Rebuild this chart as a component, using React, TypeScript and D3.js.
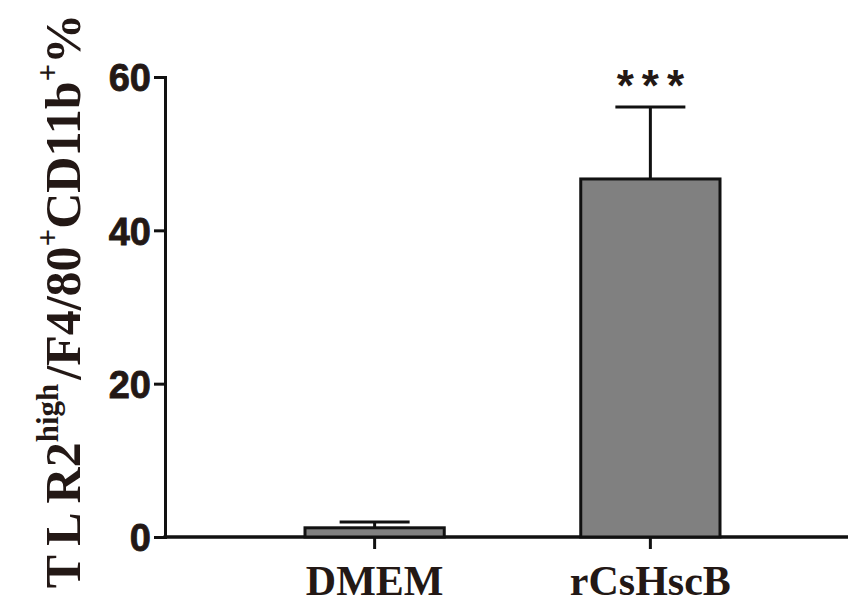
import React, { useRef, useEffect } from "react";
import * as d3 from "d3";

const groups = ["DMEM", "rCsHscB"];
const means = [1.2, 46.7];
const errors = [0.75, 9.4];
const signif = ["", "***"];
const yTicks = [0, 20, 40, 60];

const W = 848;
const H = 605;

const App: React.FC = () => {
  const svgRef = useRef<SVGSVGElement | null>(null);

  useEffect(() => {
    if (!svgRef.current) return;
    const svg = d3.select(svgRef.current);
    svg.selectAll("*").remove();

    const x0 = 165;
    const yScale = d3.scaleLinear().domain([0, 60]).range([537, 77]);
    const xScale = d3
      .scaleBand()
      .domain(groups)
      .range([305, 720])
      .paddingInner(0.495);

    const data = groups.map((g, i) => ({
      g,
      mean: means[i],
      err: errors[i],
      sig: signif[i],
    }));

    // y axis
    const yAxis = d3
      .axisLeft(yScale)
      .tickValues(yTicks)
      .tickSize(11)
      .tickPadding(3)
      .tickFormat((d) => `${d}`);

    const ya = svg
      .append("g")
      .attr("transform", `translate(${x0},0)`)
      .call(yAxis);
    ya.select(".domain").attr("stroke", "#111").attr("stroke-width", 3);
    ya.selectAll(".tick line").attr("stroke", "#111").attr("stroke-width", 3);
    ya.selectAll(".tick text")
      .attr("fill", "#231815")
      .attr("font-family", "'Liberation Sans', Arial, sans-serif")
      .attr("font-weight", "bold")
      .attr("font-size", 38)
      .attr("stroke", "#231815")
      .attr("stroke-width", 0.8)
      .attr("dy", "0.36em");

    // x axis
    const xa = svg
      .append("g")
      .attr("transform", `translate(0,${yScale(0)})`);
    xa.append("line")
      .attr("x1", x0 - 1.5)
      .attr("x2", W)
      .attr("stroke", "#111")
      .attr("stroke-width", 3.5);
    xa.selectAll("line.tk")
      .data(groups)
      .join("line")
      .attr("class", "tk")
      .attr("x1", (d) => (xScale(d) || 0) + xScale.bandwidth() / 2)
      .attr("x2", (d) => (xScale(d) || 0) + xScale.bandwidth() / 2)
      .attr("y1", 0)
      .attr("y2", 12)
      .attr("stroke", "#111")
      .attr("stroke-width", 3);
    xa.selectAll("text")
      .data(groups)
      .join("text")
      .attr("x", (d) => (xScale(d) || 0) + xScale.bandwidth() / 2)
      .attr("y", 58)
      .attr("text-anchor", "middle")
      .attr("fill", "#231815")
      .attr("font-family", "'Liberation Serif', 'Times New Roman', serif")
      .attr("font-weight", "bold")
      .attr("font-size", 42)
      .text((d) => d);

    // error bars (upper only)
    const eb = svg.append("g").selectAll("g").data(data).join("g");
    eb.append("line")
      .attr("x1", (d) => (xScale(d.g) || 0) + xScale.bandwidth() / 2)
      .attr("x2", (d) => (xScale(d.g) || 0) + xScale.bandwidth() / 2)
      .attr("y1", (d) => yScale(d.mean))
      .attr("y2", (d) => yScale(d.mean + d.err))
      .attr("stroke", "#111")
      .attr("stroke-width", 3);
    eb.append("line")
      .attr("x1", (d) => (xScale(d.g) || 0) + xScale.bandwidth() / 2 - 35)
      .attr("x2", (d) => (xScale(d.g) || 0) + xScale.bandwidth() / 2 + 35)
      .attr("y1", (d) => yScale(d.mean + d.err))
      .attr("y2", (d) => yScale(d.mean + d.err))
      .attr("stroke", "#111")
      .attr("stroke-width", 3);

    // bars
    svg
      .append("g")
      .selectAll("rect")
      .data(data)
      .join("rect")
      .attr("x", (d) => xScale(d.g) || 0)
      .attr("y", (d) => yScale(d.mean))
      .attr("width", xScale.bandwidth())
      .attr("height", (d) => yScale(0) - yScale(d.mean))
      .attr("fill", "#808080")
      .attr("stroke", "#111")
      .attr("stroke-width", 3);

    // significance stars
    svg
      .append("g")
      .selectAll("text")
      .data(data)
      .join("text")
      .attr("x", (d) => (xScale(d.g) || 0) + xScale.bandwidth() / 2 + 4)
      .attr("y", (d) => yScale(d.mean + d.err) - 6)
      .attr("text-anchor", "middle")
      .attr("fill", "#231815")
      .attr("font-family", "'Liberation Sans', Arial, sans-serif")
      .attr("font-weight", "bold")
      .attr("font-size", 44)
      .attr("letter-spacing", 8)
      .text((d) => d.sig);

    // y label
    const lab = svg
      .append("text")
      .attr("transform", `translate(80,301) rotate(-90)`)
      .attr("text-anchor", "middle")
      .attr("fill", "#231815")
      .attr("font-family", "'Liberation Serif', 'Times New Roman', serif")
      .attr("font-weight", "bold")
      .attr("font-size", 50);
    lab.append("tspan").attr("letter-spacing", 9).text("TL");
    lab.append("tspan").text("R2");
    lab.append("tspan").attr("font-size", 31).attr("dy", -22).text("high");
    lab.append("tspan").attr("dy", 22).attr("dx", 4).text("/F4/80");
    lab.append("tspan").attr("font-size", 31).attr("dy", -22).text("+");
    lab.append("tspan").attr("dy", 22).text("CD11b");
    lab.append("tspan").attr("font-size", 31).attr("dy", -22).text("+");
    lab.append("tspan").attr("dy", 22).text("%");
  }, []);

  return (
    <svg
      ref={svgRef}
      width={W}
      height={H}
      style={{ position: "absolute", left: 0, top: 0, background: "#fff" }}
    />
  );
};

export default App;
